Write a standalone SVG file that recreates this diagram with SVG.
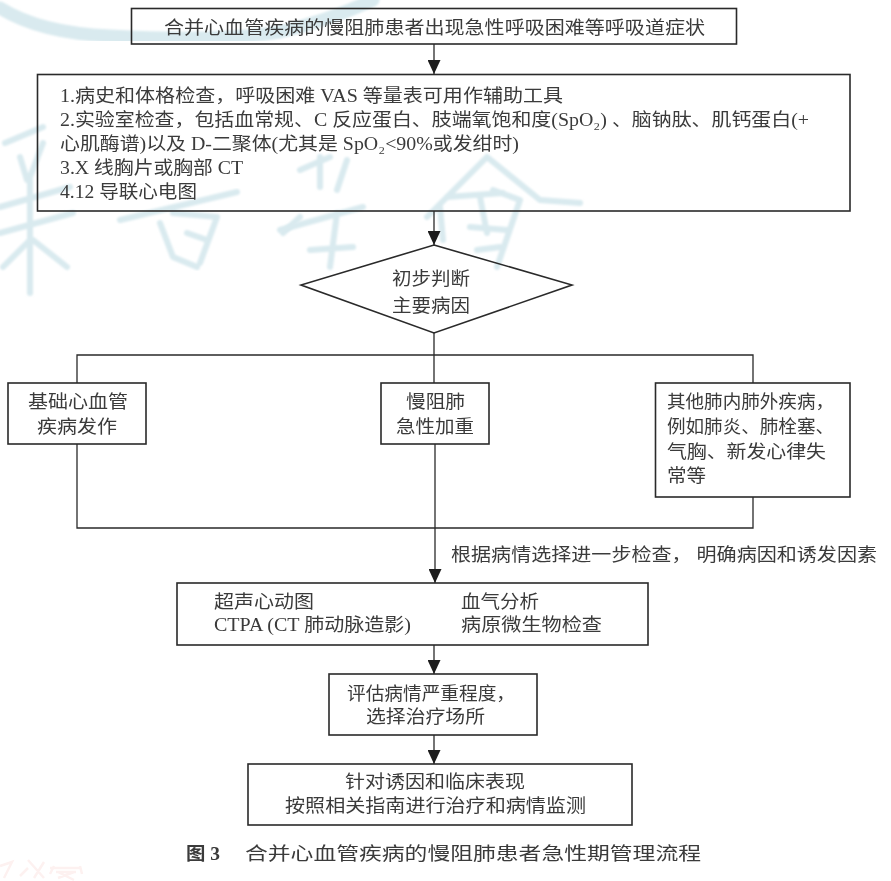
<svg xmlns="http://www.w3.org/2000/svg" width="891" height="881" viewBox="0 0 891 881">
<style>
text{font-family:"Liberation Serif","Noto Sans CJK SC",serif;font-size:18px;fill:#3a3a3a;filter:url(#s)}
.b{fill:none;stroke:#2a2a2a;stroke-width:1.6}
.c{fill:none;stroke:#2a2a2a;stroke-width:1.3}
.w{fill:none;stroke:#d9eaef;stroke-width:6;stroke-linecap:round;stroke-linejoin:round;filter:url(#m)}
.r{fill:none;stroke:#fdf1f0;stroke-width:2.500;filter:url(#s)}
</style>
<defs>
<filter id="s" x="-5%" y="-30%" width="110%" height="160%"><feGaussianBlur stdDeviation="0.35"/></filter>
<filter id="m" x="-5%" y="-5%" width="110%" height="110%"><feGaussianBlur stdDeviation="1"/></filter>
<marker id="a" markerUnits="userSpaceOnUse" markerWidth="14" markerHeight="13" refX="14" refY="6.500" orient="auto"><path d="M0 0L14 6.500L0 13Z" fill="#1c1c1c"/></marker>
</defs>
<rect width="891" height="881" fill="#fff"/>
<g id="watermark">
<path class="w" style="stroke-width:13" d="M0 8Q40 33 110 36Q220 42 280 32Q330 20 373 0"/>
<path class="w" d="M5 143L43 127M20 157L27 180M43 143L30 177M0 207L70 187M0 233L73 213M30 180V293M3 267L30 240M33 240L67 267"/>
<path class="w" d="M120 220L237 192M160 223L173 257L197 267M173 213L217 217L200 263M187 233L207 240M283 233L300 217"/>
<path class="w" d="M300 170L330 157M320 157V187M347 160L337 190M280 230L363 207M310 250L353 247M337 213L330 267"/>
<path class="w" d="M427 217L487 157L540 200L580 203M447 197L503 193M480 197L487 233M493 190L520 200L497 267M470 227L507 230M477 250L500 247M440 207L443 240"/>
<path class="r" d="M0 866L12 862L4 878M20 876L28 868M28 860L44 878M44 862L34 878M50 868H80M54 866L50 874M80 866L82 874M56 872H76M58 878L74 872M58 872L74 880"/>
</g>
<g id="connectors">
<path class="c" marker-end="url(#a)" d="M434 44V74"/>
<path class="c" marker-end="url(#a)" d="M434 211V245"/>
<path class="c" d="M434 333V383M77 383V355H753V383"/>
<path class="c" d="M77 444V528H753V497"/>
<path class="c" d="M435 444V528"/>
<path class="c" marker-end="url(#a)" d="M435 528V583"/>
<path class="c" marker-end="url(#a)" d="M434 645V674"/>
<path class="c" marker-end="url(#a)" d="M434 735V764"/>
</g>
<g id="n1"><rect class="b" x="131.500" y="8.500" width="605" height="35.500"/>
<text x="164" y="34" textLength="541" lengthAdjust="spacingAndGlyphs">合并心血管疾病的慢阻肺患者出现急性呼吸困难等呼吸道症状</text></g>
<g id="n2"><rect class="b" x="37.500" y="74.500" width="812.500" height="136.500"/>
<text x="60" y="102" textLength="503" lengthAdjust="spacingAndGlyphs">1.病史和体格检查，呼吸困难 VAS 等量表可用作辅助工具</text>
<text x="60" y="126" textLength="749" lengthAdjust="spacingAndGlyphs">2.实验室检查，包括血常规、C 反应蛋白、肢端氧饱和度(SpO₂) 、脑钠肽、肌钙蛋白(+</text>
<text x="60" y="150" textLength="459" lengthAdjust="spacingAndGlyphs">心肌酶谱)以及 D-二聚体(尤其是 SpO₂&lt;90%或发绀时)</text>
<text x="60" y="174" textLength="183" lengthAdjust="spacingAndGlyphs">3.X 线胸片或胸部 CT</text>
<text x="60" y="198" textLength="137" lengthAdjust="spacingAndGlyphs">4.12 导联心电图</text></g>
<g id="n3"><path class="b" d="M434 245L572 285L434 333L301 285Z"/>
<text x="392" y="285" textLength="78" lengthAdjust="spacingAndGlyphs">初步判断</text>
<text x="392" y="312" textLength="78" lengthAdjust="spacingAndGlyphs">主要病因</text></g>
<g id="n4"><rect class="b" x="8" y="383" width="138" height="61"/>
<text x="28" y="408" textLength="100" lengthAdjust="spacingAndGlyphs">基础心血管</text>
<text x="37" y="433" textLength="80" lengthAdjust="spacingAndGlyphs">疾病发作</text></g>
<g id="n5"><rect class="b" x="381" y="383" width="108" height="61"/>
<text x="406" y="408" textLength="59" lengthAdjust="spacingAndGlyphs">慢阻肺</text>
<text x="396" y="433" textLength="78" lengthAdjust="spacingAndGlyphs">急性加重</text></g>
<g id="n6"><rect class="b" x="655.500" y="383" width="194.500" height="114"/>
<text x="667" y="408" textLength="167" lengthAdjust="spacingAndGlyphs">其他肺内肺外疾病，</text>
<text x="667" y="433" textLength="167" lengthAdjust="spacingAndGlyphs">例如肺炎、肺栓塞、</text>
<text x="667" y="458" textLength="159" lengthAdjust="spacingAndGlyphs">气胸、新发心律失</text>
<text x="667" y="482" textLength="39" lengthAdjust="spacingAndGlyphs">常等</text></g>
<text id="edge-label" x="451" y="561" textLength="426" lengthAdjust="spacingAndGlyphs">根据病情选择进一步检查， 明确病因和诱发因素</text>
<g id="n7"><rect class="b" x="177" y="583" width="471" height="62"/>
<text x="214" y="608" textLength="100" lengthAdjust="spacingAndGlyphs">超声心动图</text>
<text x="461" y="608" textLength="78" lengthAdjust="spacingAndGlyphs">血气分析</text>
<text x="214" y="631" textLength="197" lengthAdjust="spacingAndGlyphs">CTPA (CT 肺动脉造影)</text>
<text x="461" y="631" textLength="141" lengthAdjust="spacingAndGlyphs">病原微生物检查</text></g>
<g id="n8"><rect class="b" x="329" y="674" width="208" height="61"/>
<text x="347" y="700" textLength="168" lengthAdjust="spacingAndGlyphs">评估病情严重程度，</text>
<text x="366" y="723" textLength="119" lengthAdjust="spacingAndGlyphs">选择治疗场所</text></g>
<g id="n9"><rect class="b" x="248" y="764" width="384" height="61"/>
<text x="345" y="788" textLength="180" lengthAdjust="spacingAndGlyphs">针对诱因和临床表现</text>
<text x="285" y="812" textLength="301" lengthAdjust="spacingAndGlyphs">按照相关指南进行治疗和病情监测</text></g>
<g id="caption">
<text x="186" y="860" textLength="34" lengthAdjust="spacingAndGlyphs" font-weight="700">图 3</text>
<text x="245" y="860" textLength="456" lengthAdjust="spacingAndGlyphs">合并心血管疾病的慢阻肺患者急性期管理流程</text></g>
</svg>
